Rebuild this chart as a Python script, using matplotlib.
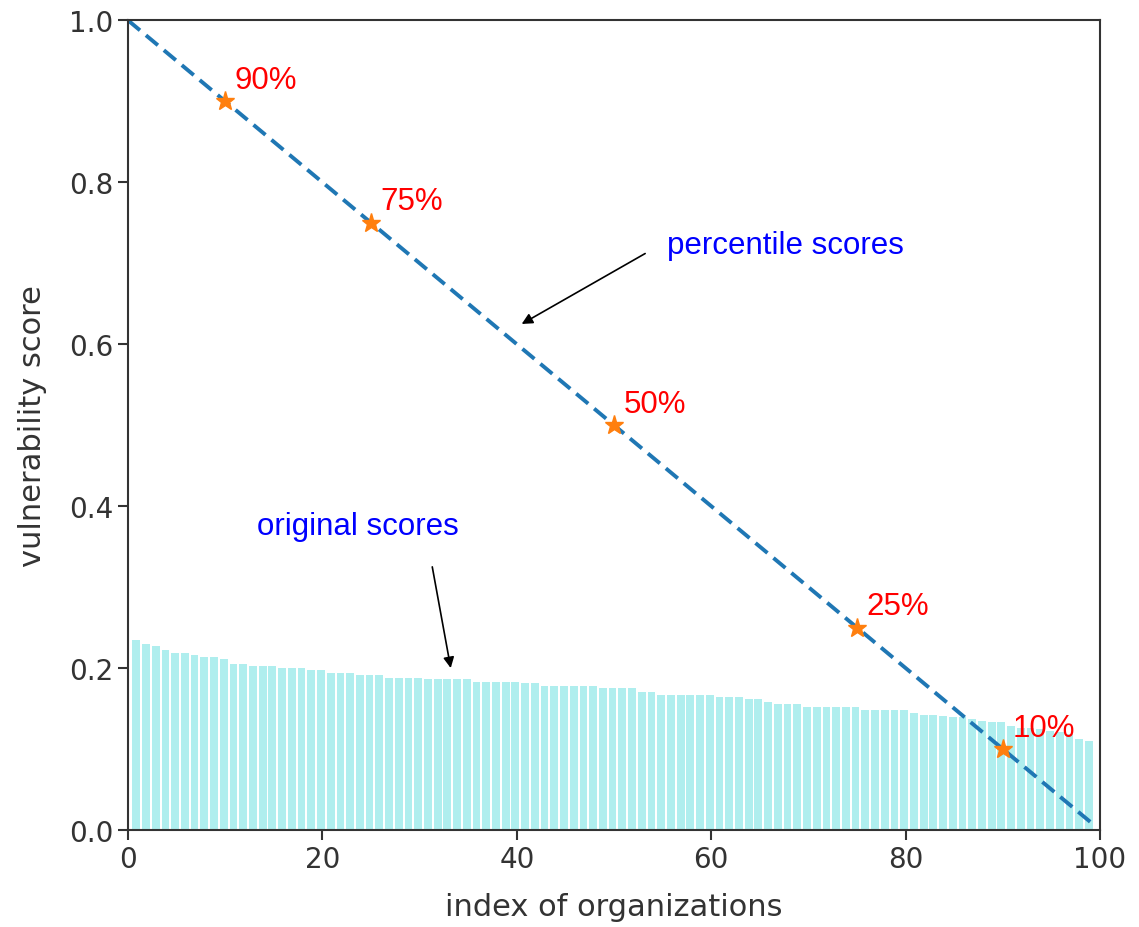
import matplotlib
matplotlib.use("Agg")
import matplotlib.pyplot as plt
import numpy as np

# original scores (sorted, one per organization)
original_scores = [
    0.235, 0.230, 0.2275, 0.222, 0.219, 0.219, 0.2165, 0.2135, 0.2135, 0.211,
    0.2055, 0.2055, 0.2025, 0.2025, 0.2025, 0.200, 0.200,
    0.200, 0.1975, 0.1975, 0.1945, 0.1945, 0.1945, 0.1915, 0.1915, 0.1915,
    0.188, 0.188, 0.188, 0.188, 0.186, 0.186, 0.186,
    0.186, 0.186, 0.183, 0.183, 0.183, 0.183, 0.183, 0.181, 0.181, 0.178,
    0.178, 0.178, 0.178, 0.178, 0.178, 0.175, 0.175,
    0.175, 0.175, 0.170, 0.170, 0.1665, 0.1665, 0.1665, 0.1665, 0.1665, 0.1665,
    0.1643, 0.1643, 0.1643, 0.1617, 0.1617, 0.1586, 0.156,
    0.1555, 0.1555, 0.1525, 0.1525, 0.1525, 0.1525, 0.1525, 0.1525, 0.148,
    0.148, 0.148, 0.148, 0.148, 0.145, 0.1425, 0.1425, 0.141,
    0.140, 0.139, 0.137, 0.135, 0.134, 0.133, 0.129, 0.1265, 0.1265, 0.1247,
    0.1225, 0.121, 0.1185, 0.113, 0.110,
]

# percentile line end points and marked percentiles
line_x = [0, 99]
line_y = [1.0, 0.01]
pct_x = [10, 25, 50, 75, 90]
pct_y = [0.9, 0.75, 0.5, 0.25, 0.1]
pct_labels = ["90%", "75%", "50%", "25%", "10%"]

fig = plt.figure(figsize=(11.39, 9.28), dpi=100)
ax = fig.add_axes([0.1124, 0.1045, 0.8534, 0.8725])

idx = np.arange(1, len(original_scores) + 1) - 0.15
ax.bar(idx, original_scores, width=0.8, color="#afeeee")
ax.plot(line_x, line_y, linestyle="--", color="#1f77b4", linewidth=2.8, dashes=(4, 2))
ax.plot(pct_x, pct_y, linestyle="none", marker="*", color="#ff7f0e", markersize=14)

for x, y, t in zip(pct_x, pct_y, pct_labels):
    ax.text(x + 1.0, y + 0.008, t, color="red", fontsize=22.5,
            family="Liberation Sans", va="bottom", ha="left")

ax.text(55.5, 0.723, "percentile scores", color="blue", fontsize=22.5,
        family="Liberation Sans", va="center", ha="left")
ax.annotate("", xy=(40.5, 0.625), xytext=(53.2, 0.712),
            arrowprops=dict(arrowstyle="-|>", color="black", lw=1.2,
                            shrinkA=0, shrinkB=0, mutation_scale=16))
ax.text(13.3, 0.375, "original scores", color="blue", fontsize=22.5,
        family="Liberation Sans", va="center", ha="left")
ax.annotate("", xy=(33.2, 0.2), xytext=(31.3, 0.325),
            arrowprops=dict(arrowstyle="-|>", color="black", lw=1.2,
                            shrinkA=0, shrinkB=0, mutation_scale=16))

ax.set_xlim(0, 100)
ax.set_ylim(0, 1.0)
ax.set_xticks([0, 20, 40, 60, 80, 100])
ax.set_yticks([0.0, 0.2, 0.4, 0.6, 0.8, 1.0])
ax.tick_params(labelsize=20, length=7, width=1.5, colors="#333333")
for s in ax.spines.values():
    s.set_linewidth(1.5)
    s.set_color("#333333")
ax.set_xlabel("index of organizations", fontsize=22, color="#333333", labelpad=14)
ax.set_ylabel("vulnerability score", fontsize=22, color="#333333", labelpad=16)

fig.savefig("out.png", dpi=100)
